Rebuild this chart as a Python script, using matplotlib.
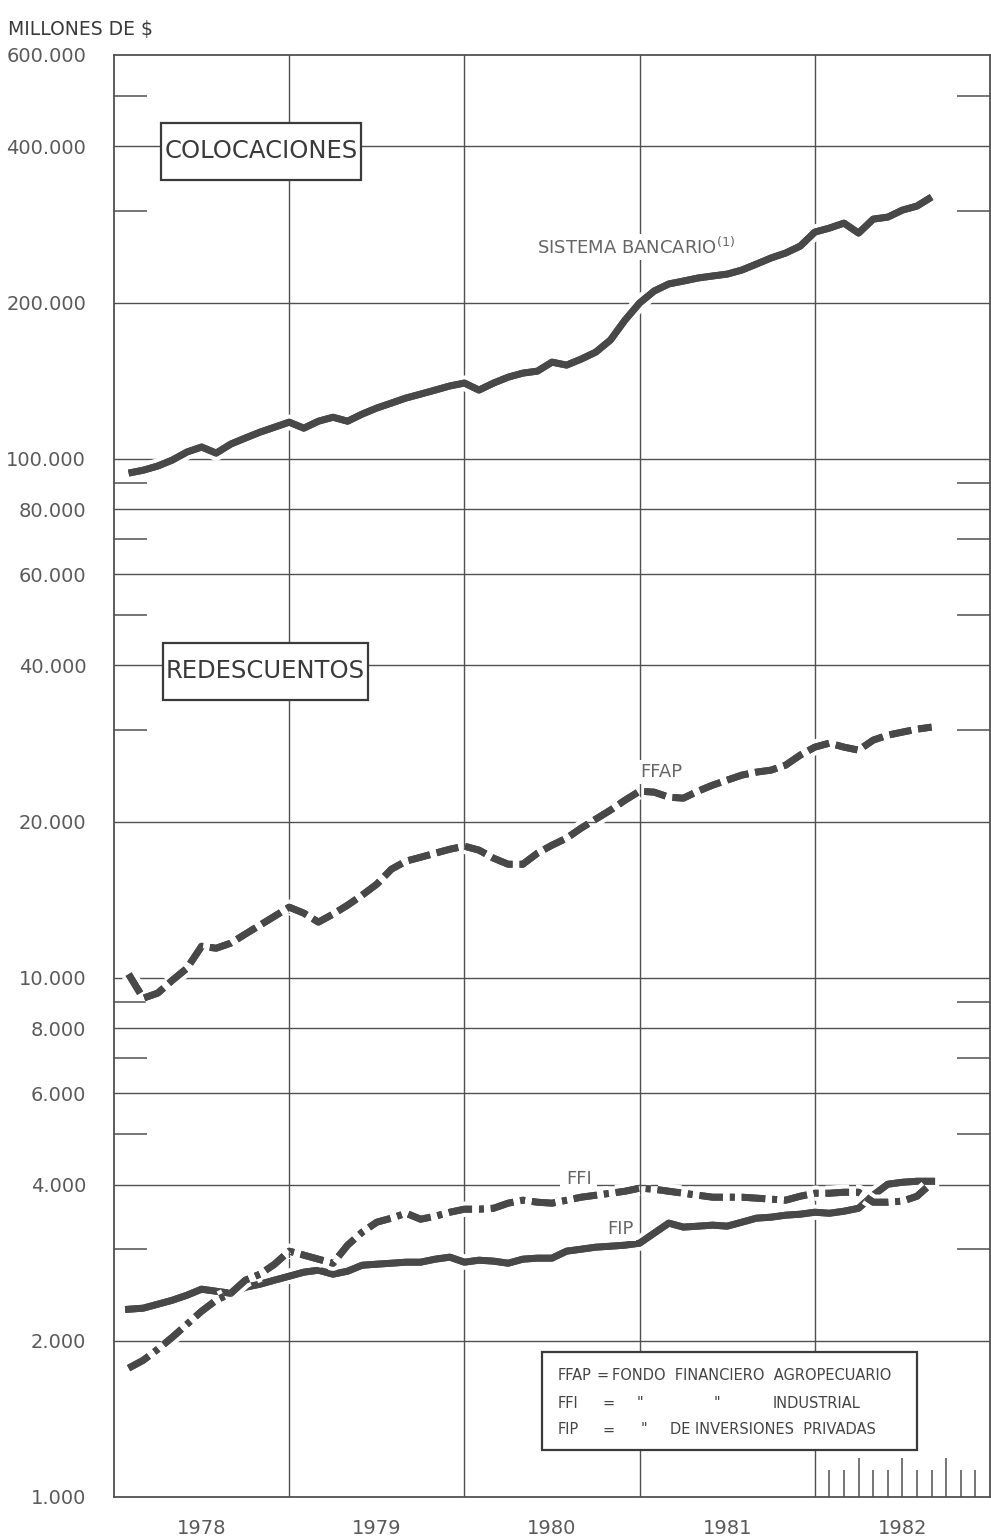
import numpy as np
import pandas as pd
import matplotlib
matplotlib.use("Agg")
import matplotlib.pyplot as plt
import matplotlib.patheffects as pe
from matplotlib.patches import Rectangle
from matplotlib.ticker import FixedLocator, FuncFormatter, NullFormatter

plt.rcParams['font.family'] = ['DejaVu Sans']
plt.rcParams['lines.scale_dashes'] = False

# ---------------- data (monthly, Jan 1978 - Aug 1982), millones de $ ----------------
months = pd.period_range('1978-01', '1982-08', freq='M')

sistema_bancario = [93900, 95100, 96900, 99500, 103100, 105400, 102600, 106800, 109700, 112600, 115100, 117700,
                    114600, 118200, 120300, 118200, 122000, 125300, 128100, 131000, 133300, 135700, 138200, 140000,
                    135700, 140000, 143700, 146300, 147600, 153600, 151600, 155700, 160600, 169400, 185100, 199700,
                    210600, 217300, 220100, 223100, 225100, 227000, 231100, 237300, 243800, 249200, 257000, 273500,
                    278400, 284600, 272300, 289700, 292300, 301500, 307000, 319500]

ffap = [10170, 9140, 9350, 9900, 10440, 11510, 11410, 11670, 12150, 12640, 13150, 13690,
        13330, 12810, 13270, 13810, 14440, 15160, 16200, 16790, 17080, 17390, 17700, 17940,
        17630, 17010, 16560, 16560, 17390, 18020, 18590, 19440, 20230, 21050, 22000, 22900,
        22800, 22300, 22200, 22900, 23520, 24050, 24590, 24920, 25140, 25700, 26870, 27840,
        28340, 27840, 27470, 28720, 29360, 29760, 30150, 30430]

ffi = [1771, 1834, 1926, 2032, 2152, 2280, 2394, 2469, 2617, 2687, 2809, 2976,
       2924, 2872, 2821, 3056, 3238, 3384, 3445, 3522, 3429, 3475, 3537, 3585,
       3585, 3600, 3682, 3731, 3698, 3682, 3731, 3781, 3814, 3848, 3882, 3936,
       3917, 3882, 3848, 3814, 3781, 3781, 3781, 3765, 3748, 3731, 3797, 3848,
       3848, 3865, 3865, 3698, 3698, 3715, 3797, 4023]

fip = [2300, 2311, 2352, 2394, 2448, 2514, 2491, 2469, 2536, 2570, 2617, 2663,
       2711, 2735, 2687, 2723, 2796, 2809, 2821, 2834, 2834, 2872, 2898, 2834,
       2859, 2847, 2821, 2872, 2885, 2885, 2976, 3002, 3029, 3042, 3056, 3083,
       3224, 3370, 3311, 3325, 3340, 3325, 3384, 3445, 3460, 3491, 3506, 3537,
       3521, 3553, 3600, 3814, 4005, 4040, 4058, 4058]

years = [1978, 1979, 1980, 1981, 1982]
y_major = [1000, 2000, 4000, 6000, 8000, 10000, 20000, 40000, 60000, 80000,
           100000, 200000, 400000, 600000]
y_minor = [3000, 5000, 7000, 9000, 30000, 50000, 70000, 90000, 300000, 500000]

# month-end positions in fractional years
x = np.array([p.year + p.month / 12.0 for p in months])

# ---------------- figure ----------------
W, H = 991, 1537
fig = plt.figure(figsize=(W / 100, H / 100), dpi=100)
ax = fig.add_axes([114 / W, 40 / H, 876 / W, 1442 / H])
ax.set_yscale('log')
ax.set_xlim(1978, 1983)
ax.set_ylim(1000, 600000)

ink = '#484848'
grid_c = '#505050'
label_c = '#5a5a5a'

# grid lines
for v in y_major[1:-1]:
    ax.axhline(v, color=grid_c, lw=1.0, zorder=1)
for yr in years[1:]:
    ax.axvline(yr, color=grid_c, lw=1.0, zorder=1)

for s in ax.spines.values():
    s.set_color(grid_c)
    s.set_linewidth(1.3)

# y ticks
ax.yaxis.set_major_locator(FixedLocator(y_major))
ax.yaxis.set_minor_locator(FixedLocator(y_minor))
ax.yaxis.set_major_formatter(FuncFormatter(lambda v, p: f"{int(v):,}".replace(',', '.')))
ax.yaxis.set_minor_formatter(NullFormatter())
ax.tick_params(axis='y', which='major', length=0, pad=20, labelsize=14, labelcolor=label_c)
ax.tick_params(axis='y', which='minor', direction='in', length=24, width=1.1,
               color=grid_c, left=True, right=True)

# x ticks: labels at mid-year
ax.set_xticks([])
ax.set_xticks([y + 0.5 for y in years], minor=True)
ax.set_xticklabels([str(y) for y in years], minor=True)
ax.tick_params(axis='x', which='minor', length=0, pad=16, labelsize=14, labelcolor=label_c)

# monthly ticks in 1982
mt = np.arange(1, 12)
xt = 1982 + mt / 12.0
tall = (mt % 3 == 0)
ax.vlines(xt[~tall], 0, 27 / 1442, transform=ax.get_xaxis_transform(), color=grid_c, lw=1.1, zorder=2)
ax.vlines(xt[tall], 0, 39 / 1442, transform=ax.get_xaxis_transform(), color=grid_c, lw=1.1, zorder=2)

lw = 5.0
halo = [pe.withStroke(linewidth=lw + 6, foreground='white'), pe.Normal()]

ax.plot(x, sistema_bancario, color=ink, lw=lw, solid_capstyle='butt', solid_joinstyle='round',
        path_effects=halo, zorder=4)
l_ffap, = ax.plot(x, ffap, color=ink, lw=lw, dash_capstyle='butt', path_effects=halo, zorder=4)
l_ffap.set_dashes((16, 5))
ax.plot(x, fip, color=ink, lw=lw, solid_joinstyle='round', path_effects=halo, zorder=4)
l_ffi, = ax.plot(x, ffi, color=ink, lw=lw, dash_capstyle='butt', path_effects=halo, zorder=5)
l_ffi.set_dashes((17, 5, 3.5, 5))

# boxed section titles
def title_box(x0, y0, w, h, text):
    ax.add_patch(Rectangle((x0 / 876, (1497 - y0 - h) / 1442), w / 876, h / 1442,
                           transform=ax.transAxes, facecolor='white', edgecolor='#3a3a3a',
                           lw=1.6, zorder=6))
    ax.text((x0 + w / 2) / 876, (1497 - y0 - h / 2) / 1442, text, transform=ax.transAxes,
            ha='center', va='center', fontsize=17.5, color='#3a3a3a', zorder=7)

title_box(161 - 114, 123, 200, 57, 'COLOCACIONES')
title_box(163 - 114, 643, 205, 57, 'REDESCUENTOS')

def ax_xy(px, py):
    return (px - 114) / 876, (1497 - py) / 1442

wb = dict(facecolor='white', edgecolor='none', pad=2)
ax.text(*ax_xy(537, 247), 'SISTEMA BANCARIO$^{(1)}$', transform=ax.transAxes, ha='left', va='center',
        fontsize=13, color='#666666', bbox=wb, zorder=6)
ax.text(*ax_xy(640, 772), 'FFAP', transform=ax.transAxes, ha='left', va='center',
        fontsize=13, color='#666666', bbox=wb, zorder=6)
ax.text(*ax_xy(566, 1179), 'FFI', transform=ax.transAxes, ha='left', va='center',
        fontsize=13, color='#666666', bbox=dict(facecolor='white', edgecolor='none', pad=4), zorder=3)
ax.text(*ax_xy(607, 1229), 'FIP', transform=ax.transAxes, ha='left', va='center',
        fontsize=13, color='#666666', bbox=wb, zorder=6)

# legend box
ax.add_patch(Rectangle(ax_xy(542, 1450), 375 / 876, 98 / 1442, transform=ax.transAxes,
                       facecolor='white', edgecolor='#3a3a3a', lw=1.6, zorder=6))
leg_rows = [
    [(558, 'FFAP'), (597, '='), (612, 'FONDO  FINANCIERO  AGROPECUARIO')],
    [(558, 'FFI'), (603, '='), (637, '"'), (714, '"'), (773, 'INDUSTRIAL')],
    [(558, 'FIP'), (603, '='), (641, '"'), (670, 'DE INVERSIONES  PRIVADAS')],
]
for py, row in zip([1375, 1403, 1430], leg_rows):
    for px, t in row:
        ax.text(*ax_xy(px, py), t, transform=ax.transAxes, ha='left', va='center',
                fontsize=10.5, color='#444444', zorder=7)

fig.text(8 / W, 1 - 30 / H, 'MILLONES DE $', ha='left', va='center', fontsize=13.5, color='#3a3a3a')

fig.savefig('out.png', dpi=100, facecolor='white')
